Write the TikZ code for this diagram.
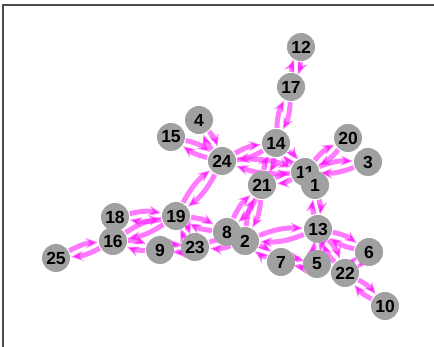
\documentclass[tikz,border=0pt]{standalone}
\usepackage{fontspec}
\setmainfont{Liberation Sans}
\usetikzlibrary{arrows.meta,backgrounds}
\definecolor{nodegray}{HTML}{A0A0A0}
\definecolor{edgemag}{HTML}{FF22FF}
\tikzset{
  vtx/.style={circle,fill=nodegray,draw=none,minimum size=28pt,inner sep=0pt,font=\fontsize{17.5}{17.5}\selectfont\bfseries},
  edge/.style={draw=edgemag,draw opacity=0.6,line width=5pt,-{Stealth[length=12pt,width=10pt,inset=4pt]},shorten >=1pt,shorten <=1pt,bend left=12}
}
\begin{document}
\begin{tikzpicture}[x=1pt,y=-1pt]
\useasboundingbox (0,0) rectangle (434,347);
\draw[line width=1.5pt,black!70] (3,347) -- (3,5) -- (434,5);
\node[vtx] (n12) at (301,47) {12};
\node[vtx] (n17) at (291,87) {17};
\node[vtx] (n4) at (199,120) {4};
\node[vtx] (n15) at (171,137) {15};
\node[vtx] (n14) at (276,143) {14};
\node[vtx] (n20) at (348,138) {20};
\node[vtx] (n3) at (368,162) {3};
\node[vtx] (n24) at (222,161) {24};
\node[vtx] (n11) at (305,172) {11};
\node[vtx] (n1) at (315,185) {1};
\node[vtx] (n21) at (262,185) {21};
\node[vtx] (n18) at (115,217) {18};
\node[vtx] (n19) at (176,216) {19};
\node[vtx] (n8) at (227,232) {8};
\node[vtx] (n2) at (245,241) {2};
\node[vtx] (n13) at (318,229) {13};
\node[vtx] (n16) at (113,241) {16};
\node[vtx] (n9) at (160,250) {9};
\node[vtx] (n23) at (195,247) {23};
\node[vtx] (n6) at (369,252) {6};
\node[vtx] (n7) at (281,262) {7};
\node[vtx] (n5) at (317,264) {5};
\node[vtx] (n22) at (345,273) {22};
\node[vtx] (n25) at (56,258) {25};
\node[vtx] (n10) at (385,306) {10};
\begin{pgfonlayer}{background}
\foreach \a/\b in {12/17,17/14,4/24,15/24,24/14,24/11,14/11,14/21,21/11,11/20,11/3,1/13,
  24/19,19/18,19/16,16/25,16/9,9/23,19/23,19/8,23/2,21/8,21/2,2/13,2/7,7/5,13/5,13/22,13/6,6/22,22/10}{
  \draw[edge] (n\a) to (n\b);
  \draw[edge] (n\b) to (n\a);
}
\end{pgfonlayer}
\end{tikzpicture}
\end{document}
